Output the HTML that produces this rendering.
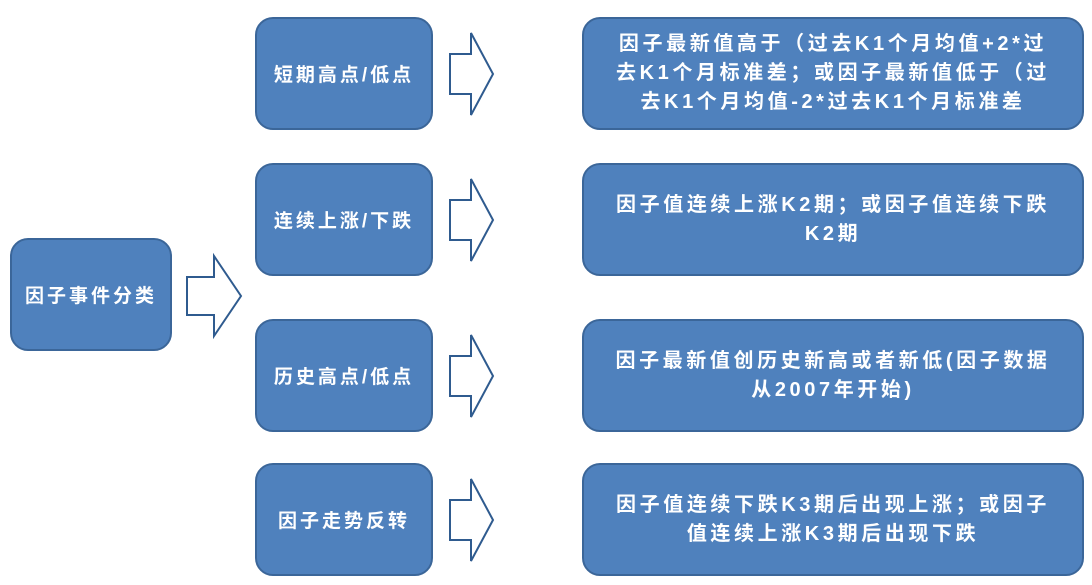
<!DOCTYPE html>
<html><head><meta charset="utf-8"><style>
body{margin:0;width:1092px;height:585px;background:#fff;position:relative;overflow:hidden;font-family:"Liberation Sans","Noto Sans CJK SC",sans-serif;}
.b{position:absolute;background:#4f81bd;border:2px solid #3b6699;border-radius:18px;box-sizing:border-box;color:#fff;font-weight:bold;display:flex;align-items:center;justify-content:center;text-align:center;}
.m{left:255px;width:178px;height:113px;font-size:19px;letter-spacing:3px;}
.r{left:582px;width:502px;height:113px;font-size:20px;line-height:29px;letter-spacing:3.6px;white-space:nowrap;}
svg{position:absolute;left:0;top:0;}
</style></head><body>
<svg width="1092" height="585">
<g fill="#fff" stroke="#2f5b8f" stroke-width="2">
<polygon points="187,277 214,277 214,256 241,296 214,336 214,315 187,315"/>
<polygon points="450,54 471,54 471,33 493,74 471,115 471,94 450,94"/>
<polygon points="450,200 471,200 471,179 493,220 471,261 471,240 450,240"/>
<polygon points="450,356 471,356 471,335 493,376 471,417 471,396 450,396"/>
<polygon points="450,500 471,500 471,479 493,520 471,561 471,540 450,540"/>
</g></svg>
<div class="b" style="left:10px;top:238px;width:162px;height:113px;font-size:19px;letter-spacing:3px;">因子事件分类</div>
<div class="b m" style="top:17px">短期高点/低点</div>
<div class="b m" style="top:163px">连续上涨/下跌</div>
<div class="b m" style="top:319px">历史高点/低点</div>
<div class="b m" style="top:463px">因子走势反转</div>
<div class="b r" style="top:17px"><div>因子最新值高于（过去K1个月均值+2*过<br>去K1个月标准差；或因子最新值低于（过<br>去K1个月均值-2*过去K1个月标准差</div></div>
<div class="b r" style="top:163px"><div>因子值连续上涨K2期；或因子值连续下跌<br>K2期</div></div>
<div class="b r" style="top:319px"><div>因子最新值创历史新高或者新低(因子数据<br>从2007年开始)</div></div>
<div class="b r" style="top:463px"><div>因子值连续下跌K3期后出现上涨；或因子<br>值连续上涨K3期后出现下跌</div></div>
</body></html>
